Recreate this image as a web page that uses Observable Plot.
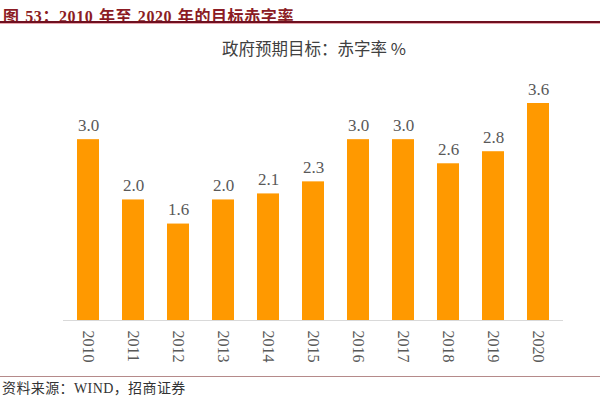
<!DOCTYPE html>
<html>
<head>
<meta charset="utf-8">
<script src="https://cdn.jsdelivr.net/npm/d3@7"></script>
<script src="https://cdn.jsdelivr.net/npm/@observablehq/plot@0.6"></script>
<style>
  body { margin: 0; background: #fff; }
  #wrap { position: relative; width: 600px; height: 396px; overflow: hidden; font-family: "Liberation Serif", "Noto Sans CJK SC", serif; }
  #title { position: absolute; left: 3px; top: 3px; font-size: 16px; letter-spacing: 0.6px; word-spacing: 1px; font-weight: bold; color: #8c1c24; white-space: nowrap; font-family: "Liberation Serif", "Noto Sans CJK SC", serif; }
  #topline { position: absolute; left: 0; top: 21px; width: 600px; height: 2px; background: #6e1020; border-bottom: 1px solid #e9a6ae; }
  #subtitle { position: absolute; left: 0; width: 628px; top: 36px; text-align: center; font-size: 16.5px; color: #404040; font-family: "Noto Sans CJK SC", sans-serif; }
  #chart { position: absolute; left: 0; top: 62px; }
  #botline { position: absolute; left: 0; top: 376px; width: 600px; height: 1px; background: #b58a8a; }
  #source { position: absolute; left: 2px; top: 377px; font-size: 14px; letter-spacing: 0.4px; color: #333; white-space: nowrap; font-family: "Liberation Serif", "Noto Sans CJK SC", serif; }
</style>
</head>
<body>
<div id="wrap">
  <div id="title">图 53：2010 年至 2020 年的目标赤字率</div>
  <div id="topline"></div>
  <div id="subtitle">政府预期目标：赤字率 %</div>
  <div id="chart"></div>
  <div id="botline"></div>
  <div id="source">资料来源：WIND，招商证券</div>
</div>
<script>
const years = ["2010","2011","2012","2013","2014","2015","2016","2017","2018","2019","2020"];
const deficitRate = [3.0, 2.0, 1.6, 2.0, 2.1, 2.3, 3.0, 3.0, 2.6, 2.8, 3.6];

const data = years.map((y, i) => ({year: y, value: deficitRate[i]}));

const chart = Plot.plot({
  width: 600,
  height: 312,
  marginLeft: 63,
  marginRight: 37,
  marginTop: 41,
  marginBottom: 54,
  style: {fontFamily: "'Liberation Serif', serif", fontSize: "16px", color: "#595959", background: "transparent"},
  x: {domain: years, paddingInner: 0.51, paddingOuter: 0.28, label: null, tickRotate: 90, tickSize: 0, tickPadding: 10},
  y: {domain: [0, 3.6], axis: null},
  marks: [
    Plot.barY(data, {x: "year", y: "value", fill: "#ff9900"}),
    Plot.ruleY([0], {stroke: "#d9d9d9", strokeWidth: 1}),
    Plot.text(data, {x: "year", y: "value", text: d => d.value.toFixed(1), lineAnchor: "bottom", dy: -9, fill: "#595959", fontSize: 17, fontFamily: "'Liberation Serif', serif"})
  ]
});
document.getElementById("chart").appendChild(chart);
</script>
</body>
</html>
